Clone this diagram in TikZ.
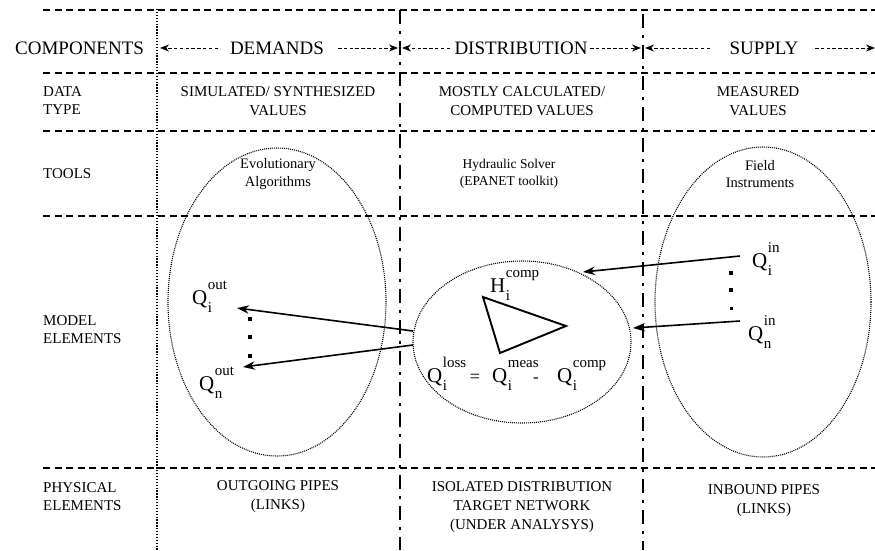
\documentclass[tikz,border=0pt]{standalone}
\usepackage{fontspec}
\setmainfont{Liberation Serif}
\usetikzlibrary{arrows.meta,shapes.geometric}
\tikzset{
 hline/.style={line width=1.7pt, dash pattern=on 7pt off 4.5pt},
 dotline/.style={line width=1.4pt, dash pattern=on 1.3pt off 1.6pt},
 ddline/.style={line width=1.9pt, dash pattern=on 14pt off 7pt on 3pt off 7pt},
 hdrarrow/.style={line width=1pt, dash pattern=on 3.5pt off 2.3pt, -{Stealth[length=9pt,width=7pt]}},
 hdr/.style={font=\fontsize{19}{21}\selectfont, inner sep=0pt},
 txt/.style={font=\fontsize{15}{19}\selectfont, align=center, inner sep=0pt},
 small/.style={font=\fontsize{14.5}{17.5}\selectfont, align=center, inner sep=0pt},
 lbl/.style={font=\fontsize{15}{18}\selectfont, align=left, anchor=west, inner sep=0pt},
 oval/.style={draw, ellipse, line width=1.1pt, dash pattern=on 1pt off 1pt, inner sep=0pt},
 flow/.style={line width=1.6pt, -{Stealth[length=12pt,width=8.5pt]}},
 sq/.style={fill, minimum size=3.8pt, inner sep=0pt},
 qlab/.style={anchor=base west, inner sep=0pt}
}
\newcommand{\Qlab}[3]{{\fontsize{21}{21}\selectfont #1}\kern0.5pt\rlap{\raisebox{15pt}{\fontsize{15}{15}\selectfont #3}}\raisebox{-8pt}{\fontsize{15}{15}\selectfont #2}}
\begin{document}
\begin{tikzpicture}[x=1pt,y=-1pt]
\useasboundingbox (0,0) rectangle (875,550);
% horizontal dashed lines
\foreach \yy in {10,73,131,216,468} \draw[hline] (43,\yy) -- (875,\yy);
% vertical lines
\draw[dotline] (157,9) -- (157,550);
\draw[ddline] (400,10) -- (400,550);
\draw[ddline] (643,14) -- (643,550);
% header
\node[hdr, anchor=west] (comp) at (15,48) {COMPONENTS};
\node[hdr] (dem) at (277,48) {DEMANDS};
\node[hdr] (dist) at (521,48) {DISTRIBUTION};
\node[hdr] (sup) at (764,48) {SUPPLY};
\coordinate (h1) at (160,48); \coordinate (h2) at (218,48);
\coordinate (h3) at (338,48); \coordinate (h4) at (398,48);
\coordinate (h5) at (450,48); \coordinate (h6) at (402,48);
\coordinate (h7) at (590,48); \coordinate (h8) at (641,48);
\coordinate (h9) at (710,48); \coordinate (h10) at (645,48);
\coordinate (h11) at (815,48); \coordinate (h12) at (875,48);
\draw[hdrarrow] (h2) -- (h1);
\draw[hdrarrow] (h3) -- (h4);
\draw[hdrarrow] (h5) -- (h6);
\draw[hdrarrow] (h7) -- (h8);
\draw[hdrarrow] (h9) -- (h10);
\draw[hdrarrow] (h11) -- (h12);
% row labels
\node[lbl] (l1) at (43,101) {DATA\\TYPE};
\node[lbl] (l2) at (43,174) {TOOLS};
\node[lbl] (l3) at (43,330) {MODEL\\ELEMENTS};
\node[lbl] (l4) at (43,497) {PHYSICAL\\ELEMENTS};
% data type
\node[txt] (d1) at (278,101) {SIMULATED/ SYNTHESIZED\\VALUES};
\node[txt] (d2) at (522,101) {MOSTLY CALCULATED/\\COMPUTED VALUES};
\node[txt] (d3) at (758,101) {MEASURED\\VALUES};
% tools
\node[small] (t1) at (278,174) {Evolutionary\\Algorithms};
\node[small, font=\fontsize{13.5}{17}\selectfont] (t2) at (509,174) {Hydraulic Solver\\(EPANET toolkit)};
\node[small] (t3) at (760,174) {Field\\Instruments};
% physical
\node[txt] (p1) at (278,497) {OUTGOING PIPES\\(LINKS)};
\node[txt] (p2) at (522,507) {ISOLATED DISTRIBUTION\\TARGET NETWORK\\(UNDER ANALYSYS)};
\node[txt] (p3) at (764,501) {INBOUND PIPES\\(LINKS)};
% ellipses
\node[oval, minimum width=218pt, minimum height=308pt] (eL) at (277,302) {};
\node[oval, minimum width=218pt, minimum height=162pt] (eM) at (522,342) {};
\node[oval, minimum width=216pt, minimum height=310pt] (eR) at (763,302) {};
% left labels
\node[qlab] (qio) at (192,304) {\Qlab{Q}{i}{out}};
\node[qlab] (qno) at (199,390) {\Qlab{Q}{n}{out}};
\node[sq] (dl1) at (250,319) {};
\node[sq] (dl2) at (250,337) {};
\node[sq] (dl3) at (250,356) {};
% middle
\node[qlab] (hic) at (490,292) {\Qlab{H}{i}{comp}};
\coordinate (ta) at (483,297); \coordinate (tb) at (566,326); \coordinate (tc) at (500,353);
\draw[line width=1.9pt, line join=miter] (ta) -- (tb) -- (tc) -- cycle;
\node[qlab] (ql) at (427,382) {\Qlab{Q}{i}{loss}};
\node[inner sep=0pt, font=\fontsize{18}{18}\selectfont] (eq) at (475,378) {=};
\node[qlab] (qm) at (492,382) {\Qlab{Q}{i}{meas}};
\node[inner sep=0pt, font=\fontsize{17}{17}\selectfont] (mi) at (536,380) {-};
\node[qlab] (qc) at (557,382) {\Qlab{Q}{i}{comp}};
% right
\node[qlab] (qii) at (752,267) {\Qlab{Q}{i}{in}};
\node[qlab] (qni) at (748,340) {\Qlab{Q}{n}{in}};
\node[sq] (dr1) at (731,273) {};
\node[sq] (dr2) at (731,290) {};
\node[sq, minimum size=3pt] (dr3) at (731,308) {};
% arrows
\coordinate (a1s) at (413,331); \coordinate (a1e) at (237,308);
\coordinate (a2s) at (413,345); \coordinate (a2e) at (243,367);
\coordinate (a3s) at (740,256); \coordinate (a3e) at (583,272);
\coordinate (a4s) at (740,321); \coordinate (a4e) at (633,328);
\draw[flow] (a1s) -- (a1e);
\draw[flow] (a2s) -- (a2e);
\draw[flow] (a3s) -- (a3e);
\draw[flow] (a4s) -- (a4e);
\end{tikzpicture}
\end{document}
